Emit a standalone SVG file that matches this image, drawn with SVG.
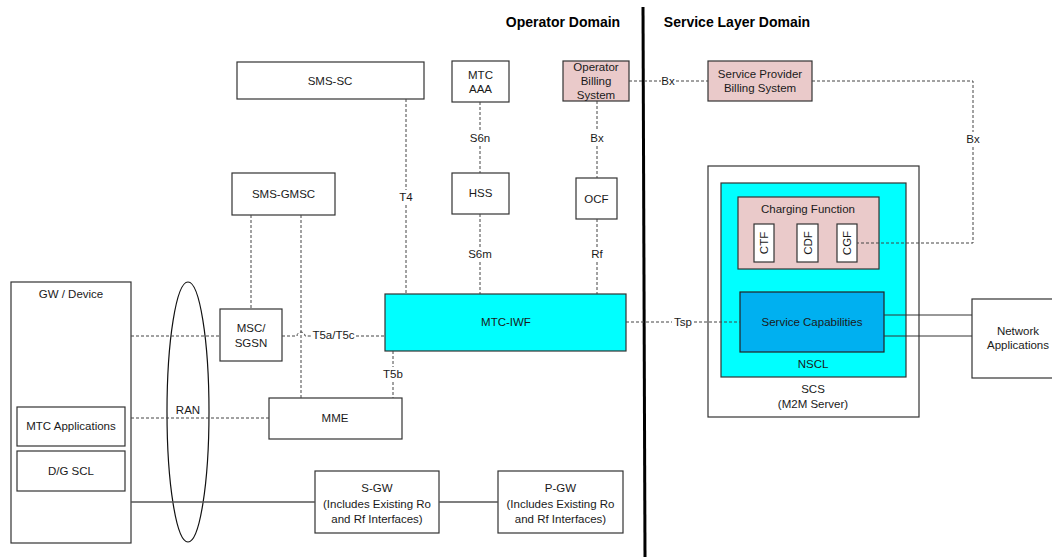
<svg xmlns="http://www.w3.org/2000/svg" width="1052" height="560" viewBox="0 0 1052 560">
<style>
text{font-family:"Liberation Sans",Arial,sans-serif;font-size:11.5px;fill:#1a1a1a;text-anchor:middle;dominant-baseline:central}
.hdr{font-weight:bold;font-size:14px;fill:#000}
.box{fill:#fff;stroke:#333;stroke-width:1.2}
.pink{fill:#eacaca;stroke:#333;stroke-width:1.2}
.cyan{fill:#00ffff;stroke:#333;stroke-width:1.2}
.blue{fill:#00b0f0;stroke:#222;stroke-width:1.2}
.dash{fill:none;stroke:#444;stroke-width:1;stroke-dasharray:3,2}
.solid{fill:none;stroke:#555;stroke-width:1.5}
.thin{fill:none;stroke:#333;stroke-width:1}
</style>
<rect width="1052" height="560" fill="#fff"/>

<g id="domains">
<line x1="643" y1="7" x2="645" y2="557" stroke="#000" stroke-width="3"/>
<text class="hdr" x="563" y="22">Operator Domain</text>
<text class="hdr" x="737" y="22">Service Layer Domain</text>
</g>

<g id="sms-sc"><rect class="box" x="237" y="62" width="187" height="37"/><text x="330" y="81">SMS-SC</text></g>
<g id="mtc-aaa"><rect class="box" x="452" y="61" width="57" height="41"/><text x="480.5" y="75">MTC</text><text x="480.5" y="89">AAA</text></g>
<g id="operator-billing"><rect class="pink" x="563" y="61" width="66" height="40"/><text x="596" y="67">Operator</text><text x="596" y="81">Billing</text><text x="596" y="95">System</text></g>
<g id="sp-billing"><rect class="pink" x="708" y="61" width="104" height="40"/><text x="760" y="74">Service Provider</text><text x="760" y="88">Billing System</text></g>
<g id="sms-gmsc"><rect class="box" x="232" y="173" width="103" height="42"/><text x="283.5" y="194">SMS-GMSC</text></g>
<g id="hss"><rect class="box" x="452" y="173" width="57" height="41"/><text x="480.5" y="193">HSS</text></g>
<g id="ocf"><rect class="box" x="576" y="178" width="41" height="41"/><text x="596.5" y="199">OCF</text></g>

<g id="gw-device">
<rect class="box" x="11" y="282" width="120" height="261"/>
<text x="71" y="294">GW / Device</text>
</g>
<g id="mtc-applications"><rect class="box" x="17" y="407" width="108" height="39"/><text x="71" y="426">MTC Applications</text></g>
<g id="dg-scl"><rect class="box" x="17" y="451" width="108" height="40"/><text x="71" y="471">D/G SCL</text></g>

<g id="ran">
<ellipse cx="188" cy="412" rx="21" ry="130" fill="none" stroke="#111" stroke-width="1.2"/>
<text x="188" y="410">RAN</text>
</g>

<g id="msc-sgsn"><rect class="box" x="220" y="309" width="62" height="52"/><text x="251" y="328">MSC/</text><text x="251" y="343">SGSN</text></g>
<g id="mme"><rect class="box" x="269" y="398" width="133" height="41"/><text x="335" y="418">MME</text></g>
<g id="mtc-iwf"><rect class="cyan" x="385" y="294" width="241" height="57"/><text x="506" y="322">MTC-IWF</text></g>

<g id="s-gw"><rect class="box" x="315" y="471" width="124" height="62"/><text x="377" y="488">S-GW</text><text x="377" y="503.5">(Includes Existing Ro</text><text x="377" y="519">and Rf Interfaces)</text></g>
<g id="p-gw"><rect class="box" x="498" y="471" width="125" height="62"/><text x="560.5" y="488">P-GW</text><text x="560.5" y="503.5">(Includes Existing Ro</text><text x="560.5" y="519">and Rf Interfaces)</text></g>

<g id="scs">
<rect class="box" x="708" y="166" width="211" height="251"/>
<text x="813" y="389">SCS</text>
<text x="813" y="404">(M2M Server)</text>
</g>
<g id="nscl">
<rect class="cyan" x="721" y="183" width="185" height="194"/>
<text x="813" y="364">NSCL</text>
</g>
<g id="charging-function">
<rect class="pink" x="738" y="197" width="141" height="72"/>
<text x="808" y="209">Charging Function</text>
</g>
<g id="ctf"><rect class="box" x="754" y="224" width="20" height="38"/><text transform="translate(764 243) rotate(-90)">CTF</text></g>
<g id="cdf"><rect class="box" x="797" y="224" width="21" height="38"/><text transform="translate(807.5 243) rotate(-90)">CDF</text></g>
<g id="cgf"><rect class="box" x="837" y="224" width="20" height="38"/><text transform="translate(847 243) rotate(-90)">CGF</text></g>
<g id="service-capabilities"><rect class="blue" x="740" y="292" width="144" height="60"/><text x="812" y="322">Service Capabilities</text></g>
<g id="network-applications"><rect class="box" x="972" y="299" width="92" height="79"/><text x="1018" y="331">Network</text><text x="1018" y="345">Applications</text></g>

<g id="connectors">
<path class="dash" d="M406 99V190M406 205V294"/>
<text x="406" y="197">T4</text>
<path class="dash" d="M480 102V131M480 146V173"/>
<text x="480" y="138">S6n</text>
<path class="dash" d="M480 214V247M480 262V294"/>
<text x="480" y="254">S6m</text>
<path class="dash" d="M597 101V131M597 146V178"/>
<text x="597" y="138">Bx</text>
<path class="dash" d="M597 219V247M597 262V294"/>
<text x="597" y="254">Rf</text>
<path class="dash" d="M393 351V367M393 382V398"/>
<text x="393" y="374">T5b</text>
<path class="dash" d="M251 215V309"/>
<path class="dash" d="M301 215V398"/>
<path class="dash" d="M131 336H220"/>
<path class="dash" d="M282 336H297A4 4 0 0 1 305 336H311M356 336H385"/>
<text x="333.5" y="335">T5a/T5c</text>
<path class="dash" d="M131 418H269"/>
<path class="solid" d="M131 502H315M439 502H498"/>
<path class="dash" d="M629 81H661M676 81H708"/>
<text x="668" y="81">Bx</text>
<path class="dash" d="M812 81H973V132M973 147V243H857"/>
<text x="973" y="139">Bx</text>
<path class="dash" d="M626 322H672M694 322H740"/>
<text x="683" y="322">Tsp</text>
<path class="thin" d="M884 315H972M884 336H972"/>
</g>
</svg>
